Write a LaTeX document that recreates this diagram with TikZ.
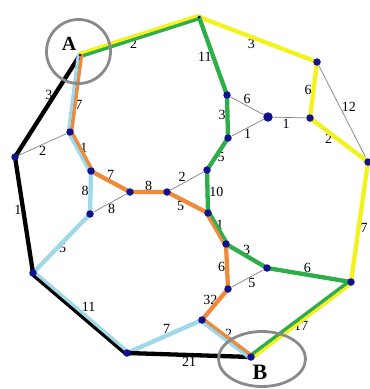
\documentclass[tikz,border=0pt]{standalone}
\usepackage{fontspec}
\setmainfont{Liberation Serif}
\usetikzlibrary{shapes.geometric,backgrounds}
\definecolor{pathyellow}{HTML}{F2F21C}
\definecolor{pathgreen}{HTML}{2DAE48}
\definecolor{pathorange}{HTML}{EE8A3A}
\definecolor{pathblue}{HTML}{9FD8E8}
\definecolor{dotblue}{HTML}{12128E}
\definecolor{ringgray}{HTML}{8A8A8A}

\begin{document}
\begin{tikzpicture}[
    x=1pt, y=-1pt,
    vertex/.style={circle, fill=dotblue, inner sep=0pt, minimum size=7.5pt},
    corner/.style={circle, fill=dotblue, inner sep=0pt, minimum size=3pt},
    edge/.style={draw=gray, line width=0.7pt},
    weight/.style={font=\fontsize{14}{16}\selectfont, inner sep=1.5pt},
    route/.style={line width=4.3pt, line cap=round, line join=round},
    pair/.style={line width=3.1pt, line cap=round},
    ring/.style={draw=ringgray, line width=2.8pt, inner sep=0pt},
    endlabel/.style={font=\bfseries, inner sep=0pt}
]
\useasboundingbox (0,0) rectangle (370,389);

% Vertices
\node[corner] (A) at (80,55) {};
\node[corner] (T) at (199,17) {};
\node[vertex] (R1) at (317,62) {};
\node[vertex] (N6) at (310,118) {};
\node[vertex] (R2) at (368,162) {};
\node[vertex, minimum size=9.5pt] (C) at (268,117) {};
\node[vertex] (G1) at (227,95) {};
\node[vertex] (G2) at (228,138) {};
\node[vertex] (G3) at (207,170) {};
\node[vertex] (G4) at (208,213) {};
\node[vertex] (G5) at (226,244) {};
\node[vertex] (G6) at (267,268) {};
\node[vertex] (R3) at (351,282) {};
\node[vertex] (B) at (251,357) {};
\node[vertex] (O1) at (228,289) {};
\node[vertex] (O2) at (202,320) {};
\node[vertex] (BL) at (127,353) {};
\node[vertex] (LL) at (33,273) {};
\node[vertex] (L) at (15,157) {};
\node[vertex] (P1) at (70,132) {};
\node[vertex] (P2) at (91,171) {};
\node[vertex] (P3) at (90,214) {};
\node[vertex] (M1) at (130,192) {};
\node[vertex] (M2) at (167,192) {};

\begin{scope}[on background layer]
% Edges with weights
\draw[edge] (A) -- (T) node[weight, pos=.45, below] {2};
\draw[edge] (T) -- (R1) node[weight, pos=.45, below] {3};
\draw[edge] (R1) -- (R2) node[weight, pos=.45, right] {12};
\draw[edge] (R1) -- (N6) node[weight, pos=.5, left] {6};
\draw[edge] (N6) -- (R2) node[weight, pos=.3, below] {2};
\draw[edge] (N6) -- (C) node[weight, pos=.6, below] {1};
\draw[edge] (C) -- (G1) node[weight, pos=.5, above] {6};
\draw[edge] (C) -- (G2) node[weight, pos=.5, below] {1};
\draw[edge] (T) -- (G1) node[weight, pos=.53, left] {11};
\draw[edge] (G1) -- (G2) node[weight, pos=.45, left] {3};
\draw[edge] (G2) -- (G3) node[weight, pos=.6, right] {5};
\draw[edge] (G3) -- (G4) node[weight, pos=.5, right] {10};
\draw[edge] (G3) -- (M2) node[weight, pos=.65, above] {2};
\draw[edge] (G4) -- (G5) node[weight, pos=.33, right] {1};
\draw[edge] (G5) -- (G6) node[weight, pos=.5, above] {3};
\draw[edge] (G6) -- (R3) node[weight, pos=.48, above] {6};
\draw[edge] (R2) -- (R3) node[weight, pos=.55, right] {7};
\draw[edge] (R3) -- (B) node[weight, pos=.5, below] {17};
\draw[edge] (G6) -- (O1) node[weight, pos=.36, below] {5};
\draw[edge] (G5) -- (O1) node[weight, pos=.5, left] {6};
\draw[edge] (O1) -- (O2) node[weight, pos=.3, left] {32};
\draw[edge] (O2) -- (B) node[weight, pos=.55, above] {2};
\draw[edge] (BL) -- (B) node[weight, pos=.5, below] {21};
\draw[edge] (BL) -- (O2) node[weight, pos=.53, above] {7};
\draw[edge] (LL) -- (BL) node[weight, pos=.5, above right] {11};
\draw[edge] (L) -- (LL) node[weight, pos=.45, left] {1};
\draw[edge] (A) -- (L) node[weight, pos=.4, left] {3};
\draw[edge] (L) -- (P1) node[weight, pos=.5, below] {2};
\draw[edge] (A) -- (P1) node[weight, pos=.67, right] {7};
\draw[edge] (P1) -- (P2) node[weight, pos=.38, right] {1};
\draw[edge] (P2) -- (P3) node[weight, pos=.45, left] {8};
\draw[edge] (P2) -- (M1) node[weight, pos=.5, above] {7};
\draw[edge] (M1) -- (M2) node[weight, pos=.5, above] {8};
\draw[edge] (M2) -- (G4) node[weight, pos=.3, below] {5};
\draw[edge] (M1) -- (P3) node[weight, pos=.45, below] {8};
\draw[edge] (P3) -- (LL) node[weight, pos=.58, right] {5};

% Routes
\draw[route, pathyellow] (T.center) -- (R1.center) -- (N6.center) -- (R2.center) -- (R3.center);
\draw[route, pathgreen] (T.center) -- (G1.center) -- (G2.center) -- (G3.center) -- (G4.center);
\draw[route, pathgreen] (G5.center) -- (G6.center) -- (R3.center);
\draw[route, pathorange] (P2.center) -- (M1.center) -- (M2.center) -- (G4.center);
\draw[route, pathorange] (G5.center) -- (O1.center) -- (O2.center);
\draw[route, pathblue] (P2.center) -- (P3.center) -- (LL.center);
\draw[route, pathblue] (BL.center) -- (O2.center);
\draw[route, black] (A.center) -- (L.center) -- (LL.center);
\draw[route, black] (BL.center) -- (B.center);

% Shared stretches, side by side
\draw[pair, pathyellow, transform canvas={shift={(-0.5,-1.6)}}] (A.center) -- (T.center);
\draw[pair, pathgreen, transform canvas={shift={(0.5,1.6)}}] (A.center) -- (T.center);
\draw[pair, pathyellow, transform canvas={shift={(1.0,1.4)}}] (R3.center) -- (B.center);
\draw[pair, pathgreen, transform canvas={shift={(-1.0,-1.4)}}] (R3.center) -- (B.center);
\draw[pair, pathblue, transform canvas={shift={(-1.7,-0.2)}}] (A.center) -- (P1.center);
\draw[pair, pathorange, transform canvas={shift={(1.7,0.2)}}] (A.center) -- (P1.center);
\draw[pair, pathblue, transform canvas={shift={(-1.5,0.8)}}] (P1.center) -- (P2.center);
\draw[pair, pathorange, transform canvas={shift={(1.5,-0.8)}}] (P1.center) -- (P2.center);
\draw[pair, pathorange, transform canvas={shift={(-1.4,0.85)}}] (G4.center) -- (G5.center);
\draw[pair, pathgreen, transform canvas={shift={(1.4,-0.85)}}] (G4.center) -- (G5.center);
\draw[pair, pathblue, transform canvas={shift={(-1.0,1.4)}}] (O2.center) -- (B.center);
\draw[pair, pathorange, transform canvas={shift={(1.0,-1.4)}}] (O2.center) -- (B.center);
\draw[pair, black, transform canvas={shift={(-1.1,1.3)}}] (LL.center) -- (BL.center);
\draw[pair, pathblue, transform canvas={shift={(1.1,-1.3)}}] (LL.center) -- (BL.center);
\end{scope}

% Start and end
\node[ring, circle, minimum size=64pt] (ringA) at (78.5,51.5) {};
\node[ring, ellipse, minimum width=87pt, minimum height=55pt] (ringB) at (262,359) {};
\node[endlabel, font=\fontsize{20}{22}\selectfont\bfseries] (labA) at (69,44) {A};
\node[endlabel, font=\fontsize{22}{24}\selectfont\bfseries] (labB) at (260,372) {B};

\end{tikzpicture}
\end{document}
